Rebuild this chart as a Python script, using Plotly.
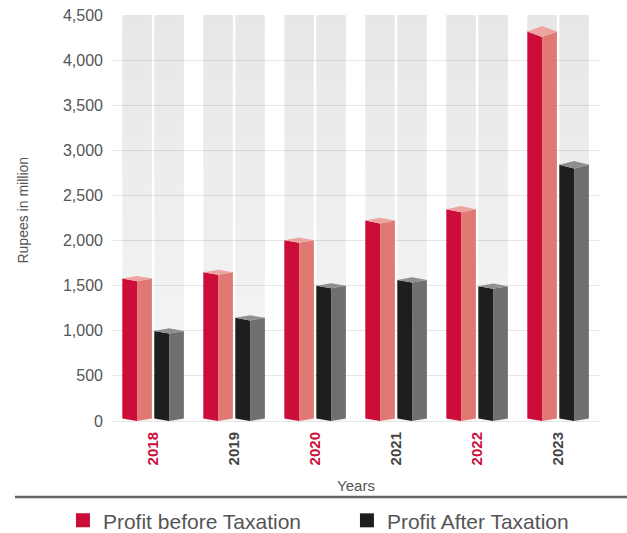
import plotly.graph_objects as go

# ---------------- data ----------------
years = ["2018", "2019", "2020", "2021", "2022", "2023"]
profit_before_tax = [1550, 1620, 1975, 2190, 2315, 4255]
profit_after_tax = [970, 1115, 1470, 1535, 1465, 2800]
y_ticks = [0, 500, 1000, 1500, 2000, 2500, 3000, 3500, 4000, 4500]
series_names = ["Profit before Taxation", "Profit After Taxation"]

# ---------------- style ----------------
Y_MAX = 4500
PLOT_PX = 406.0                     # plot height in px
UNIT_PER_PX = Y_MAX / PLOT_PX
RED = dict(front="#cc0c39", side="#e07874", top="#eda4a0")
BLK = dict(front="#1e1e1c", side="#6f6f6e", top="#8f8f8f")
TXT = "#555555"
FONT = "Liberation Sans, Arial, sans-serif"


def depth(v):
    """visual depth (data units) of the top face, grows slightly with height"""
    return max(2.6, 0.0013 * v) * UNIT_PER_PX


def prism_traces(values, left, right, colors, name):
    fx, fy, sx, sy, tx, ty, bx, by = [], [], [], [], [], [], [], []
    db = 2.6 * UNIT_PER_PX
    for i, v in enumerate(values):
        x0, x1 = i + left, i + right
        xm = (x0 + x1) / 2
        dt = depth(v)
        fx += [x0, xm, xm, x0, x0, None]
        fy += [db, 0, v, v + dt, db, None]
        sx += [xm, x1, x1, xm, xm, None]
        sy += [0, db, v + dt, v, 0, None]
        tx += [x0, xm, x1, xm, x0, None]
        ty += [v + dt, v, v + dt, v + 2 * dt, v + dt, None]
        bx += [x0, x1, x1, x0, x0, None]
        by += [0, 0, Y_MAX, Y_MAX, 0, None]
    common = dict(mode="lines", line=dict(width=0), hoverinfo="skip",
                  showlegend=False, fill="toself")
    bg = go.Scatter(x=bx, y=by, fillgradient=dict(
        type="vertical", start=0, stop=Y_MAX,
        colorscale=[[0, "rgba(0,0,0,0.035)"], [1, "rgba(0,0,0,0.095)"]]), **common)
    return [bg,
            go.Scatter(x=fx, y=fy, fillcolor=colors["front"], name=name, **common),
            go.Scatter(x=sx, y=sy, fillcolor=colors["side"], name=name, **common),
            go.Scatter(x=tx, y=ty, fillcolor=colors["top"], name=name, **common)]


fig = go.Figure()
for tr in prism_traces(profit_before_tax, -0.385, -0.02, RED, series_names[0]):
    fig.add_trace(tr)
for tr in prism_traces(profit_after_tax, 0.01, 0.375, BLK, series_names[1]):
    fig.add_trace(tr)

# legend entries
for nm, col in zip(series_names, [RED["front"], BLK["front"]]):
    fig.add_trace(go.Scatter(x=[None], y=[None], mode="markers", name=nm,
                             marker=dict(symbol="square", size=14, color=col,
                                         line=dict(width=0))))

tick_colors = [RED["front"], "#444444"]
ticktext = [f"<span style='color:{tick_colors[i % 2]}'><b>{y}</b></span>"
            for i, y in enumerate(years)]

fig.update_layout(
    width=627, height=533,
    margin=dict(l=113, r=28, t=15, b=112, autoexpand=False),
    paper_bgcolor="white", plot_bgcolor="white",
    font=dict(family=FONT, color=TXT),
    xaxis=dict(range=[-0.5, 5.5], tickmode="array",
               tickvals=list(range(len(years))), ticktext=ticktext,
               tickangle=-90, tickfont=dict(size=15), showgrid=False,
               zeroline=False, showline=False, ticks="",
               ticklabelstandoff=7, automargin=False,
               title=dict(text="Years", font=dict(size=15, color=TXT),
                          standoff=16)),
    yaxis=dict(range=[0, Y_MAX], tickmode="array", tickvals=y_ticks,
               ticktext=[f"{t:,}" for t in y_ticks],
               tickfont=dict(size=16, color=TXT), showgrid=True,
               gridcolor="#e6e6e6", gridwidth=1, zeroline=True,
               zerolinecolor="#e6e6e6", zerolinewidth=1, ticks="",
               ticklabelstandoff=9, automargin=False),
    annotations=[dict(text="Rupees in million", textangle=-90,
                      xref="paper", yref="paper", x=-0.1859, y=0.52,
                      xanchor="center", yanchor="middle", showarrow=False,
                      font=dict(size=14, color=TXT))],
    legend=dict(orientation="h", x=-0.103, xanchor="left", y=-0.195,
                yanchor="top", font=dict(size=21, color=TXT),
                entrywidth=239, itemwidth=30, bgcolor="rgba(0,0,0,0)"),
    shapes=[dict(type="line", xref="paper", yref="paper",
                 x0=-0.2016, x1=1.06, y0=-0.187, y1=-0.187,
                 line=dict(color="#666666", width=2.5))],
)

fig.write_html("out.html", config={"displayModeBar": False},
               post_script="document.body.style.margin='0';")
